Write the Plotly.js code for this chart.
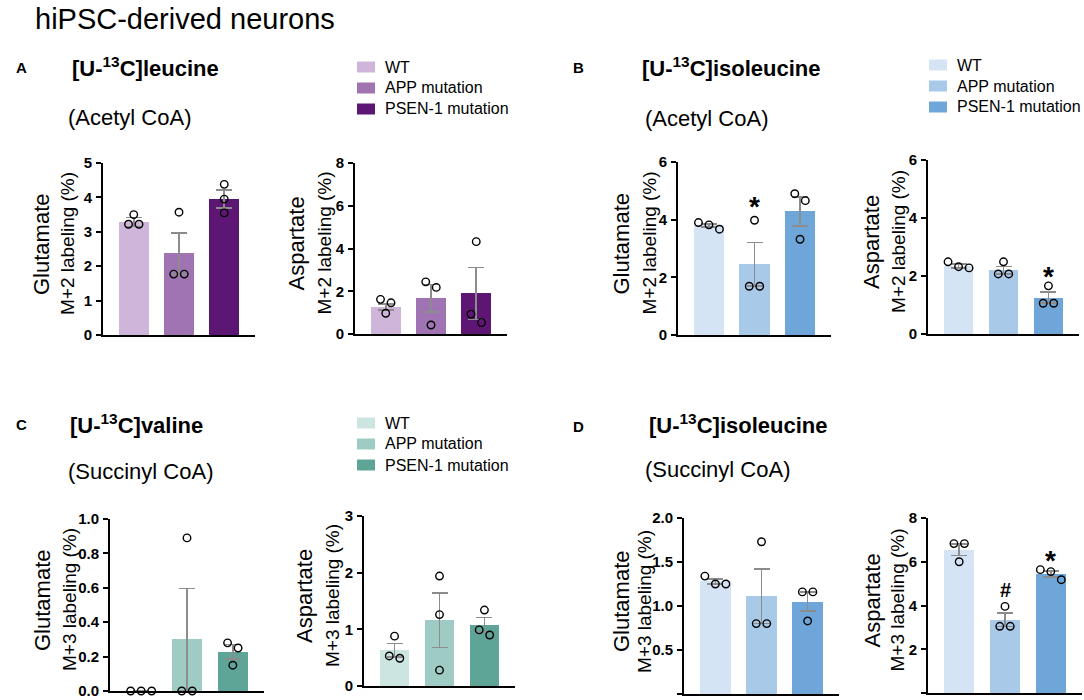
<!DOCTYPE html>
<html>
<head>
<meta charset="utf-8">
<script src="https://cdn.plot.ly/plotly-3.0.1.min.js"></script>
<style>html,body{margin:0;padding:0;background:#fff}#chart{width:1084px;height:700px}</style>
</head>
<body>
<div id="chart"></div>
<script>
// ---------------- DATA ----------------
const groups = ['WT', 'APP mutation', 'PSEN-1 mutation'];

// A: [U-13C]leucine (Acetyl CoA), M+2 labeling (%)
const leuGluMean = [3.29, 2.37, 3.96];
const leuGluSem  = [0.13, 0.60, 0.26];
const leuGluPts  = [[3.50, 3.22, 3.22], [3.57, 1.77, 1.77], [4.38, 3.95, 3.55]];
const leuAspMean = [1.25, 1.67, 1.90];
const leuAspSem  = [0.14, 0.65, 1.22];
const leuAspPts  = [[1.62, 1.46, 0.97], [2.44, 2.18, 0.42], [4.32, 0.93, 0.53]];

// B: [U-13C]isoleucine (Acetyl CoA), M+2 labeling (%)
const ileAcGluMean = [3.80, 2.45, 4.29];
const ileAcGluSem  = [0.06, 0.76, 0.50];
const ileAcGluPts  = [[3.90, 3.82, 3.67], [3.98, 1.69, 1.69], [4.90, 4.66, 3.32]];
const ileAcAspMean = [2.34, 2.20, 1.25];
const ileAcAspSem  = [0.07, 0.13, 0.19];
const ileAcAspPts  = [[2.49, 2.32, 2.28], [2.49, 2.07, 2.07], [1.66, 1.06, 1.06]];

// C: [U-13C]valine (Succinyl CoA), M+3 labeling (%)
const valGluMean = [0.00, 0.30, 0.228];
const valGluSem  = [0.00, 0.297, 0.043];
const valGluPts  = [[0, 0, 0], [0.89, 0, 0], [0.28, 0.25, 0.15]];
const valAspMean = [0.63, 1.16, 1.08];
const valAspSem  = [0.12, 0.48, 0.13];
const valAspPts  = [[0.88, 0.53, 0.49], [1.94, 1.26, 0.28], [1.34, 0.99, 0.90]];

// D: [U-13C]isoleucine (Succinyl CoA), M+3 labeling (%)
const ileSuGluMean = [1.28, 1.11, 1.05];
const ileSuGluSem  = [0.03, 0.31, 0.11];
const ileSuGluPts  = [[1.34, 1.25, 1.25], [1.73, 0.80, 0.80], [1.16, 1.16, 0.83]];
const ileSuAspMean = [6.55, 3.35, 5.45];
const ileSuAspSem  = [0.27, 0.31, 0.14];
const ileSuAspPts  = [[6.83, 6.83, 6.00], [3.96, 3.05, 3.05], [5.64, 5.55, 5.18]];

// significance marks: [groupIndex, yValue, symbol]
const sigIleAcGlu = [[1, 4.69, '*']];
const sigIleAcAsp = [[2, 2.24, '*']];
const sigIleSuAsp = [[1, 4.70, '#'], [2, 6.40, '*']];

// ---------------- STYLE / LAYOUT ----------------
const W = 1084, H = 700;
const FONT = 'Arial, "Liberation Sans", Helvetica, sans-serif';
const purple = ['#cfb5d9', '#a074b2', '#5e1675'];
const blue   = ['#d4e4f4', '#a9c9e9', '#6fa6d9'];
const teal   = ['#cde5e1', '#9ecbc3', '#5ea497'];
const XR = [-0.68, 2.68];

const panels = [
  {xl:103, xr:255, yt:163, yb:335, ymax:5, dtick:1, fmt:'', colors:purple, mean:leuGluMean, sem:leuGluSem, pts:leuGluPts, met:'Glutamate', lab:'M+2 labeling (%)', o1:-61, o2:-35, sig:[]},
  {xl:355, xr:507, yt:163, yb:334, ymax:8, dtick:2, fmt:'', colors:purple, mean:leuAspMean, sem:leuAspSem, pts:leuAspPts, met:'Aspartate', lab:'M+2 labeling (%)', o1:-59, o2:-31, sig:[]},
  {xl:678, xr:831, yt:162, yb:335, ymax:6, dtick:2, fmt:'', colors:blue, mean:ileAcGluMean, sem:ileAcGluSem, pts:ileAcGluPts, met:'Glutamate', lab:'M+2 labeling (%)', o1:-57, o2:-29, sig:sigIleAcGlu},
  {xl:928, xr:1079, yt:160, yb:334, ymax:6, dtick:2, fmt:'', colors:blue, mean:ileAcAspMean, sem:ileAcAspSem, pts:ileAcAspPts, met:'Aspartate', lab:'M+2 labeling (%)', o1:-56, o2:-29, sig:sigIleAcAsp},
  {xl:110, xr:264, yt:519, yb:691, ymax:1, dtick:0.2, fmt:'.1f', colors:teal, mean:valGluMean, sem:valGluSem, pts:valGluPts, met:'Glutamate', lab:'M+3 labeling (%)', o1:-68, o2:-41, sig:[]},
  {xl:364, xr:515, yt:516, yb:686, ymax:3, dtick:1, fmt:'', colors:teal, mean:valAspMean, sem:valAspSem, pts:valAspPts, met:'Aspartate', lab:'M+3 labeling (%)', o1:-60, o2:-32, sig:[]},
  {xl:684, xr:839, yt:518, yb:694, ymax:2, dtick:0.5, fmt:'.1f', colors:blue, mean:ileSuGluMean, sem:ileSuGluSem, pts:ileSuGluPts, met:'Glutamate', lab:'M+3 labeling (%)', o1:-63, o2:-40, sig:[]},
  {xl:928, xr:1082, yt:518, yb:693, ymax:8, dtick:2, fmt:'', colors:blue, mean:ileSuAspMean, sem:ileSuAspSem, pts:ileSuAspPts, met:'Aspartate', lab:'M+3 labeling (%)', o1:-56, o2:-31, sig:sigIleSuAsp}
];

const px = x => x / W;
const py = y => 1 - y / H;

// simple beeswarm: cluster values closer than D px, spread horizontally
function swarm(vals, pxPerY, pxPerX) {
  const D = 9, S = 10.5;
  const idx = vals.map((v, i) => i).sort((a, b) => vals[b] - vals[a]);
  const off = new Array(vals.length).fill(0);
  let cl = [idx[0]];
  const flush = () => { const n = cl.length; cl.forEach((k, j) => off[k] = (j - (n - 1) / 2) * S / pxPerX); };
  for (let i = 1; i < idx.length; i++) {
    if ((vals[cl[cl.length - 1]] - vals[idx[i]]) * pxPerY < D) cl.push(idx[i]);
    else { flush(); cl = [idx[i]]; }
  }
  flush();
  return off;
}

const traces = [];
const layout = {
  width: W, height: H,
  margin: {l: 0, r: 0, t: 0, b: 0},
  paper_bgcolor: '#fff', plot_bgcolor: 'rgba(0,0,0,0)',
  showlegend: false,
  font: {family: FONT, color: '#000'},
  bargap: 0,
  annotations: [], shapes: []
};

panels.forEach((p, i) => {
  const n = i + 1;
  const xa = 'x' + (n === 1 ? '' : n), ya = 'y' + (n === 1 ? '' : n);
  const xk = 'xaxis' + (n === 1 ? '' : n), yk = 'yaxis' + (n === 1 ? '' : n);
  const pxPerX = (p.xr - p.xl) / (XR[1] - XR[0]);
  const pxPerY = (p.yb - p.yt) / p.ymax;

  layout[xk] = {domain: [px(p.xl), px(p.xr)], range: XR, anchor: ya, showline: true, linecolor: '#000', linewidth: 2,
    showticklabels: false, ticks: '', showgrid: false, zeroline: false, fixedrange: true};
  const tv = [];
  for (let v = 0; v <= p.ymax + 1e-9; v += p.dtick) tv.push(+v.toFixed(3));
  layout[yk] = {domain: [py(p.yb), py(p.yt)], range: [0, p.ymax], anchor: xa, showline: true, linecolor: '#000', linewidth: 2,
    tickvals: tv, tickformat: p.fmt, ticks: 'outside', ticklen: 5, tickwidth: 2, tickcolor: '#000', ticklabelstandoff: 1,
    tickfont: {family: FONT, size: 15, weight: 'bold', color: '#000'}, showgrid: false, zeroline: false, fixedrange: true};

  traces.push({type: 'bar', x: [0, 1, 2], y: p.mean, xaxis: xa, yaxis: ya, width: 0.66,
    marker: {color: p.colors, line: {width: 0}},
    error_y: {type: 'data', array: p.sem, visible: true, color: '#8c8c8c', thickness: 1.6, width: 8},
    hoverinfo: 'skip'});

  const xs = [], ys = [];
  p.pts.forEach((g, gi) => {
    const off = swarm(g, pxPerY, pxPerX);
    g.forEach((v, k) => { xs.push(gi + off[k]); ys.push(v); });
  });
  traces.push({type: 'scatter', mode: 'markers', x: xs, y: ys, xaxis: xa, yaxis: ya, cliponaxis: false,
    marker: {symbol: 'circle-open', size: 7.5, color: '#000', line: {width: 1.4, color: '#000'}}, hoverinfo: 'skip'});

  p.sig.forEach(s => {
    layout.annotations.push({xref: xa, yref: ya, x: s[0], y: s[1], text: '<b>' + s[2] + '</b>', showarrow: false,
      xanchor: 'center', yanchor: 'middle', yshift: s[2] === '*' ? -7 : 0,
      font: {family: FONT, size: s[2] === '*' ? 28 : 20, color: '#000'}});
  });

  const yc = (p.yt + p.yb) / 2 - 5;
  layout.annotations.push({xref: 'paper', yref: 'paper', x: px(p.xl + p.o1), y: py(yc), text: p.met, textangle: -90,
    showarrow: false, xanchor: 'center', yanchor: 'middle', font: {family: FONT, size: 22, color: '#000'}});
  layout.annotations.push({xref: 'paper', yref: 'paper', x: px(p.xl + p.o2), y: py(yc), text: p.lab, textangle: -90,
    showarrow: false, xanchor: 'center', yanchor: 'middle', font: {family: FONT, size: 19, color: '#000'}});
});

// text blocks
function txt(x, y, t, size, opts) {
  layout.annotations.push(Object.assign({xref: 'paper', yref: 'paper', x: px(x), y: py(y), text: t, showarrow: false,
    xanchor: 'left', yanchor: 'middle', font: {family: FONT, size: size, color: '#000'}}, opts || {}));
}
txt(33, 19, 'hiPSC-derived neurons', 29);
txt(14, 67, '<b>A</b>', 15);
txt(571, 67, '<b>B</b>', 15);
txt(14, 425, '<b>C</b>', 15);
txt(571, 426, '<b>D</b>', 15);
txt(70, 67, '<b>[U-<sup>13</sup>C]leucine</b>', 22);
txt(640, 67, '<b>[U-<sup>13</sup>C]isoleucine</b>', 22);
txt(68, 424, '<b>[U-<sup>13</sup>C]valine</b>', 22);
txt(647, 424, '<b>[U-<sup>13</sup>C]isoleucine</b>', 22);
txt(66, 117, '(Acetyl CoA)', 22);
txt(643, 118, '(Acetyl CoA)', 22);
txt(66, 471, '(Succinyl CoA)', 22);
txt(643, 470, '(Succinyl CoA)', 22);

// legends
const legends = [
  {x: 357, y: 67, colors: purple},
  {x: 929, y: 65, colors: blue},
  {x: 357, y: 423, colors: teal}
];
legends.forEach(L => {
  groups.forEach((g, k) => {
    const yy = L.y + k * 21;
    layout.shapes.push({type: 'rect', xref: 'paper', yref: 'paper', x0: px(L.x), x1: px(L.x + 18), y0: py(yy + 5.5), y1: py(yy - 5.5),
      fillcolor: L.colors[k], line: {width: 0}});
    txt(L.x + 26, yy, g, 16);
  });
});

Plotly.newPlot('chart', traces, layout, {displayModeBar: false, staticPlot: true});
</script>
</body>
</html>
